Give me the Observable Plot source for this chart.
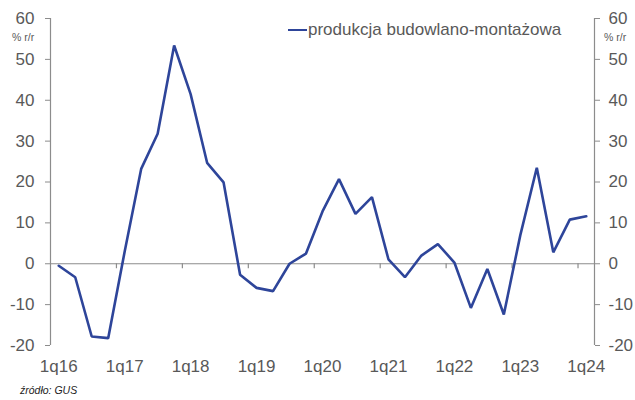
<!DOCTYPE html>
<html>
<head>
<meta charset="utf-8">
<script src="https://cdn.jsdelivr.net/npm/d3@7"></script>
<script src="https://cdn.jsdelivr.net/npm/@observablehq/plot@0.6"></script>
<style>
  body { margin: 0; background: #fff; }
  #wrap { position: relative; width: 635px; height: 400px; font-family: "Liberation Sans", Arial, sans-serif; color: #595959; }
  .unit { position: absolute; font-size: 10.5px; top: 31px; }
  #legend { position: absolute; left: 288px; top: 20px; font-size: 17px; white-space: nowrap; display: flex; align-items: center; }
  #legend .sw { display: inline-block; width: 19px; height: 0; border-top: 2.6px solid #2E459A; margin-right: 1px; }
  #source { position: absolute; left: 20px; top: 384px; font-size: 10.5px; font-style: italic; color: #222; }
</style>
</head>
<body>
<div id="wrap">
  <div id="chart"></div>
  <div class="unit" style="left:12px">% r/r</div>
  <div class="unit" style="left:604px">% r/r</div>
  <div id="legend"><span class="sw"></span><span id="legtext"></span></div>
  <div id="source">źródło: GUS</div>
</div>
<script>
const quarters = [
  "1q16","2q16","3q16","4q16",
  "1q17","2q17","3q17","4q17",
  "1q18","2q18","3q18","4q18",
  "1q19","2q19","3q19","4q19",
  "1q20","2q20","3q20","4q20",
  "1q21","2q21","3q21","4q21",
  "1q22","2q22","3q22","4q22",
  "1q23","2q23","3q23","4q23",
  "1q24"
];
const values = [
  -0.5, -3.3, -17.8, -18.2,
  3.0, 23.2, 31.8, 53.4,
  41.5, 24.7, 19.9, -2.7,
  -5.9, -6.7, 0.0, 2.5,
  12.8, 20.7, 12.2, 16.3,
  1.1, -3.3, 2.0, 4.8,
  0.3, -10.8, -1.3, -12.4,
  7.0, 23.5, 2.8, 10.8,
  11.6
];
const tickLabels = ["1q16","1q17","1q18","1q19","1q20","1q21","1q22","1q23","1q24"];
const yTicks = [-20, -10, 0, 10, 20, 30, 40, 50, 60];
const seriesName = "produkcja budowlano-montażowa";

const data = quarters.map((q, i) => ({q, i, v: values[i]}));
const labelData = tickLabels.map(t => ({t, i: quarters.indexOf(t)}));
const gray = "#8c8c8c";
const txt = "#595959";
const lineColor = "#2E459A";

const chart = Plot.plot({
  width: 635,
  height: 400,
  marginLeft: 50,
  marginRight: 41,
  marginTop: 18,
  marginBottom: 55,
  x: {type: "linear", domain: [-0.5, quarters.length - 0.5], axis: null},
  y: {domain: [-20, 60], axis: null},
  style: {fontFamily: "'Liberation Sans', Arial, sans-serif", background: "transparent"},
  marks: [
    Plot.ruleY([0], {stroke: gray, strokeWidth: 1.2}),
    Plot.ruleX(labelData.filter(d => d.i > 0), {x: d => d.i - 0.5, y1: 0, y2: 0, insetBottom: -5, stroke: gray, strokeWidth: 1.2}),
    Plot.ruleX([-0.5], {y1: -20, y2: 60, stroke: gray, strokeWidth: 1.2}),
    Plot.ruleX([quarters.length - 0.5], {y1: -20, y2: 60, stroke: gray, strokeWidth: 1.2}),
    Plot.axisY(yTicks, {anchor: "left", label: null, tickSize: 5, tickPadding: 11, fontSize: 17, stroke: gray, fill: txt, tickFormat: d => String(d)}),
    Plot.axisY(yTicks, {anchor: "right", label: null, tickSize: 5, tickPadding: 9, fontSize: 17, stroke: gray, fill: txt, tickFormat: d => String(d)}),
    Plot.line(data, {x: "i", y: "v", stroke: lineColor, strokeWidth: 2.6, strokeLinejoin: "miter"}),
    Plot.text(labelData, {x: "i", y: -20, dy: 21, text: "t", fontSize: 17, fill: txt})
  ]
});
document.getElementById("chart").appendChild(chart);
document.getElementById("legtext").textContent = seriesName;
</script>
</body>
</html>
